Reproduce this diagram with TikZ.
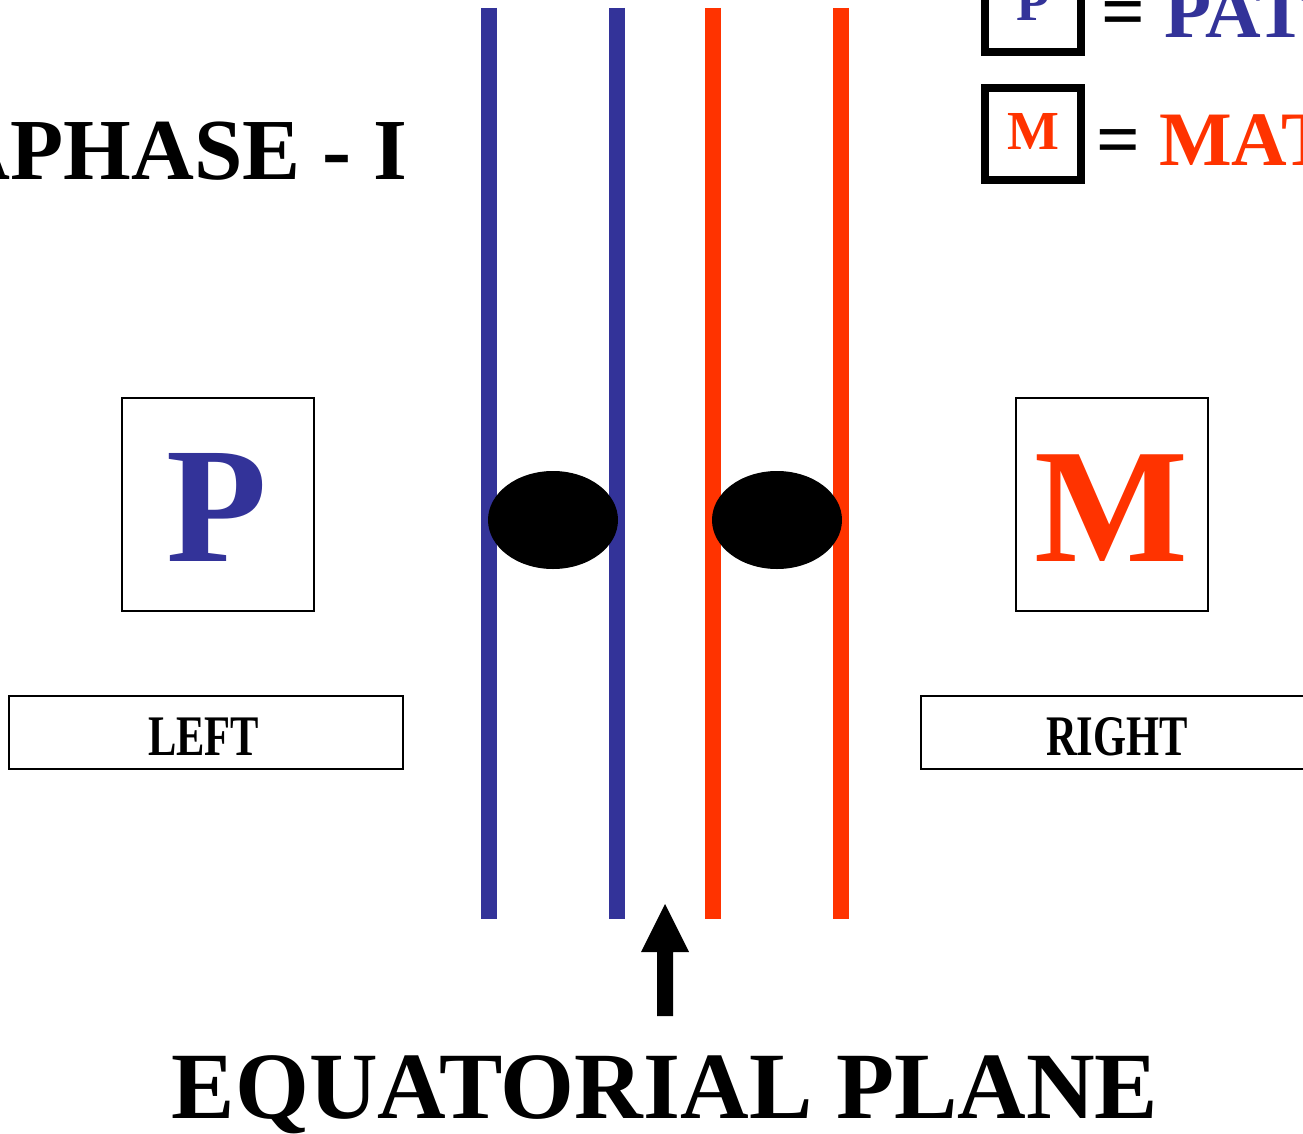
\documentclass[tikz,border=0pt]{standalone}
\usepackage{fontspec}
\setmainfont{Liberation Serif}
\usetikzlibrary{shapes.geometric}
\definecolor{patblue}{HTML}{333399}
\definecolor{matred}{HTML}{FF3300}
\newcommand\fsz[1]{\fontsize{#1}{#1}\selectfont\bfseries}
\tikzset{
  txt/.style={inner sep=0pt, outer sep=0pt},
  thinbox/.style={draw=black, line width=2pt, inner sep=0pt},
  legbox/.style={draw=black, line width=8pt, inner sep=0pt, minimum width=96pt, minimum height=92pt},
  pline/.style={draw=patblue, line width=16pt},
  mline/.style={draw=matred, line width=16pt},
  centro/.style={ellipse, fill=black, inner sep=0pt, minimum width=130pt, minimum height=98pt},
}
\begin{document}
\begin{tikzpicture}[x=1pt,y=-1pt]
\useasboundingbox (0,0) rectangle (1303,1134);
\clip (0,0) rectangle (1303,1134);
\fill[white] (0,0) rectangle (1303,1134);

% title
\node[txt, anchor=base east, font=\fsz{87}] (title) at (407,180) {APHASE - I};

% legend
\node[legbox] (legP) at (1033,6) {};
\node[txt, anchor=base, font=\fsz{55}, text=patblue] (legPt) at (1033,21) {P};
\node[txt, anchor=base west, font=\fsz{77}] (legPtext) at (1101,38) {= \textcolor{patblue}{PATERNAL}};
\node[legbox] (legM) at (1033,134) {};
\node[txt, anchor=base, font=\fsz{55}, text=matred] (legMt) at (1033,150) {M};
\node[txt, anchor=base west, font=\fsz{77}] (legMtext) at (1096,166) {= \textcolor{matred}{MATERNAL}};

% chromatid lines
\draw[pline] (489,8) -- (489,919);
\draw[pline] (617,8) -- (617,919);
\draw[mline] (713,8) -- (713,919);
\draw[mline] (841,8) -- (841,919);

% centromeres
\node[centro] (cenL) at (553,520) {};
\node[centro] (cenR) at (777,520) {};

% P and M boxes
\node[thinbox, minimum width=192pt, minimum height=213pt] (pbox) at (217.5,504) {};
\node[txt, anchor=base, font=\fsz{165}, text=patblue] (pletter) at (217,561) {P};
\node[thinbox, minimum width=192pt, minimum height=213pt] (mbox) at (1112,504) {};
\node[txt, anchor=base, font=\fsz{163}, text=matred] (mletter) at (1111.5,561) {M};

% LEFT / RIGHT
\node[thinbox, minimum width=394pt, minimum height=73pt] (leftbox) at (205.5,732.5) {};
\node[txt, anchor=base, font=\fsz{42.5}] (lefttxt) at (203.5,755) {\scalebox{1}[1.35]{LEFT}};
\node[thinbox, minimum width=400pt, minimum height=73pt] (rightbox) at (1121,732.5) {};
\node[txt, anchor=base, font=\fsz{42.5}] (righttxt) at (1117,755) {\scalebox{1}[1.35]{RIGHT}};

% arrow
\fill[black] (657,1016) -- (657,952) -- (641,952) -- (665,904) -- (689,952) -- (673,952) -- (673,1016) -- cycle;

% equatorial plane
\node[txt, anchor=base, font=\fsz{95}] (eqp) at (665,1118) {EQUATORIAL PLANE};
\end{tikzpicture}
\end{document}
